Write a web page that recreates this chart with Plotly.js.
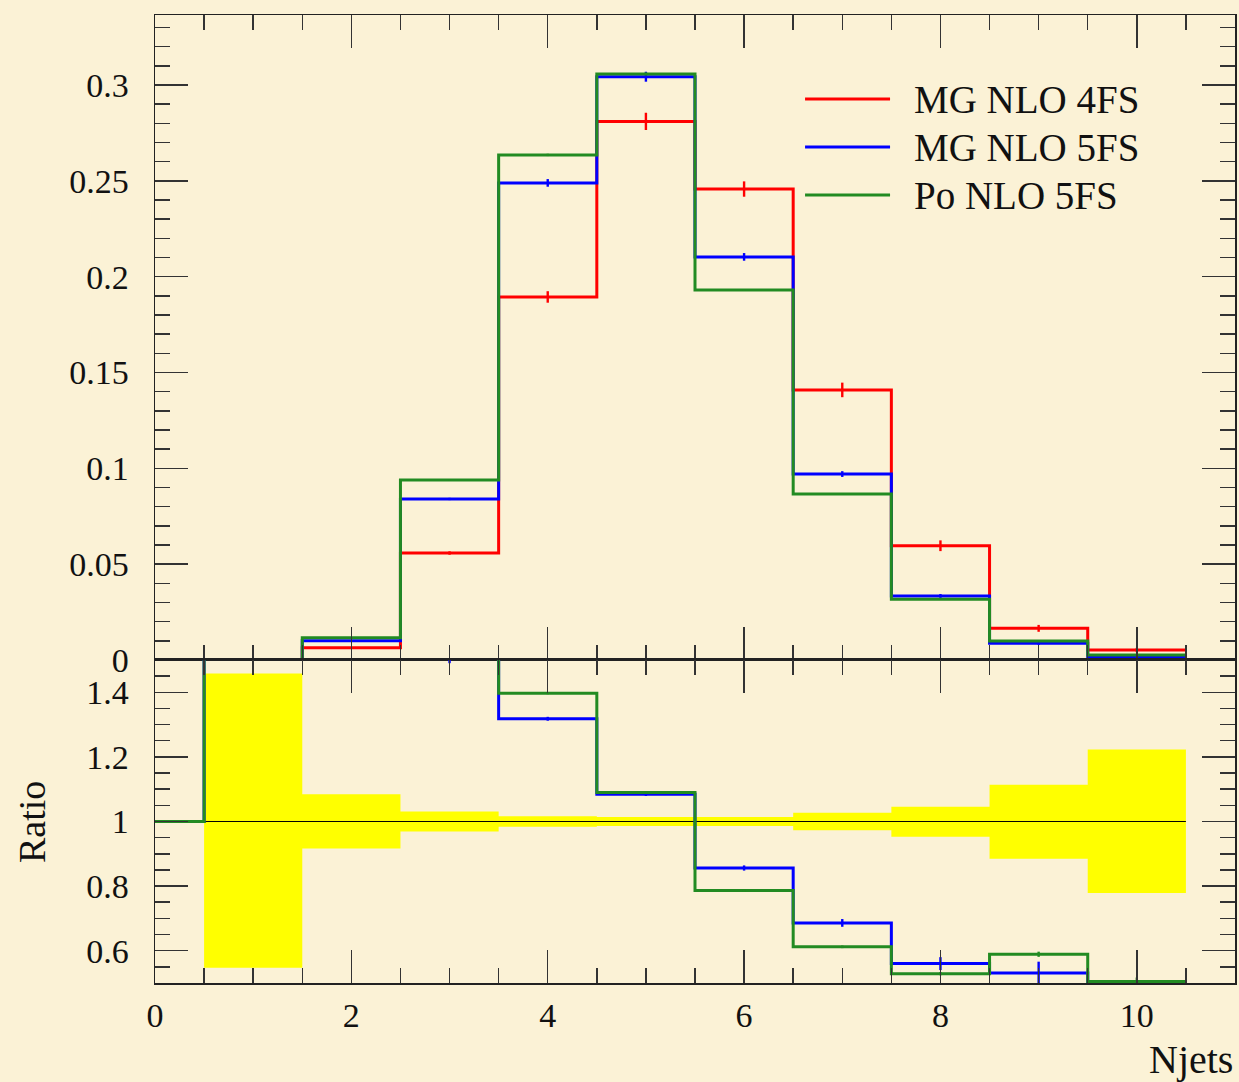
<!DOCTYPE html>
<html>
<head>
<meta charset="utf-8">
<script src="https://cdn.plot.ly/plotly-3.0.1.min.js"></script>
<style>
  html, body { margin: 0; padding: 0; background: #fbf2d6; }
  #chart { width: 1239px; height: 1082px; }
</style>
</head>
<body>
<div id="chart"></div>
<script>
// ---- Data ----
// Main panel: bins Njets = 1..10
const njetsMain = [1, 2, 3, 4, 5, 6, 7, 8, 9, 10];
const mgNlo4fs    = [0, 0.0064, 0.0558, 0.1894, 0.2810, 0.2457, 0.1409, 0.0596, 0.0165, 0.0052];
const mgNlo4fsErr = [0, 0.0003, 0.0009, 0.0030, 0.0045, 0.0040, 0.0038, 0.0028, 0.0018, 0.0011];
const mgNlo5fs    = [0, 0.0100, 0.0840, 0.2489, 0.3043, 0.2103, 0.0970, 0.0334, 0.0087, 0.0014];
const mgNlo5fsErr = [0, 0.0002, 0.0006, 0.0020, 0.0026, 0.0020, 0.0015, 0.0010, 0.0008, 0.0004];
const poNlo5fs    = [0, 0.0116, 0.0939, 0.2635, 0.3057, 0.1930, 0.0866, 0.0317, 0.0099, 0.0026];
const poNlo5fsErr = [0, 0.0001, 0.0003, 0.0006, 0.0007, 0.0005, 0.0004, 0.0003, 0.0002, 0.0001];

// Ratio panel (to MG NLO 4FS): bins Njets = 0..10 (values above 1.5 / below 0.5 are off-scale)
const njetsRatio = [0, 1, 2, 3, 4, 5, 6, 7, 8, 9, 10];
const ratioMg5    = [1, 2.0, 1.56, 1.51, 1.318, 1.084, 0.856, 0.686, 0.560, 0.531, 0.27];
const ratioMg5Err = [0, 0, 0, 0.020, 0.006, 0.005, 0.008, 0.012, 0.020, 0.035, 0.05];
const ratioPo5    = [1, 2.0, 1.81, 1.68, 1.397, 1.090, 0.786, 0.612, 0.529, 0.589, 0.505];
const ratioPo5Err = [0, 0, 0, 0.005, 0.003, 0.003, 0.003, 0.004, 0.005, 0.008, 0.012];

// Reference (MG NLO 4FS) uncertainty band: bins Njets = 1..10
const bandBins  = [1, 2, 3, 4, 5, 6, 7, 8, 9, 10];
const bandUpper = [1.458, 1.084, 1.031, 1.016, 1.014, 1.014, 1.027, 1.046, 1.114, 1.223];
const bandLower = [0.547, 0.916, 0.969, 0.984, 0.986, 0.986, 0.973, 0.953, 0.885, 0.779];
const referenceRatio = 1;

const seriesNames  = ['MG NLO 4FS', 'MG NLO 5FS', 'Po NLO 5FS'];
const seriesColors = ['#ff0000', '#0000ff', '#228b22'];

// ---- Helpers ----
function stepX(centers) {
  const xs = centers.map(c => c - 0.5);
  xs.push(centers[centers.length - 1] + 0.5);
  return xs;
}
function stepY(vals) {
  const ys = vals.slice();
  ys.push(vals[vals.length - 1]);
  return ys;
}
function histTrace(centers, vals, color, xa, ya, name) {
  return {
    type: 'scatter', mode: 'lines', name: name,
    x: stepX(centers), y: stepY(vals),
    line: { shape: 'hv', color: color, width: 3 },
    xaxis: xa, yaxis: ya, showlegend: false, hoverinfo: 'skip'
  };
}
function errTrace(centers, vals, errs, color, xa, ya) {
  return {
    type: 'scatter', mode: 'markers',
    x: centers, y: vals,
    marker: { size: 1, color: color, opacity: 0 },
    error_y: { type: 'data', array: errs, visible: true, color: color, thickness: 2.4, width: 0 },
    xaxis: xa, yaxis: ya, showlegend: false, hoverinfo: 'skip'
  };
}

const bg = '#fbf2d6';
const font = 'Liberation Serif, Times New Roman, serif';
const traces = [];

// Ratio: band
traces.push({
  type: 'scatter', mode: 'lines', x: stepX(bandBins), y: stepY(bandLower),
  line: { shape: 'hv', width: 0, color: '#ffff00' }, xaxis: 'x2', yaxis: 'y2',
  showlegend: false, hoverinfo: 'skip'
});
traces.push({
  type: 'scatter', mode: 'lines', x: stepX(bandBins), y: stepY(bandUpper),
  line: { shape: 'hv', width: 0, color: '#ffff00' }, fill: 'tonexty', fillcolor: '#ffff00',
  xaxis: 'x2', yaxis: 'y2', showlegend: false, hoverinfo: 'skip'
});
// Ratio: reference line at 1
const refX = stepX(njetsRatio);
traces.push({
  type: 'scatter', mode: 'lines', x: [refX[0], refX[refX.length - 1]], y: [referenceRatio, referenceRatio],
  line: { color: '#000000', width: 1 }, xaxis: 'x2', yaxis: 'y2', showlegend: false, hoverinfo: 'skip'
});
// Ratio: series
traces.push(histTrace(njetsRatio, ratioMg5, seriesColors[1], 'x2', 'y2', seriesNames[1]));
traces.push(errTrace(njetsRatio, ratioMg5, ratioMg5Err, seriesColors[1], 'x2', 'y2'));
traces.push(histTrace(njetsRatio, ratioPo5, seriesColors[2], 'x2', 'y2', seriesNames[2]));
traces.push(errTrace(njetsRatio, ratioPo5, ratioPo5Err, seriesColors[2], 'x2', 'y2'));

// Main panel
traces.push(histTrace(njetsMain, mgNlo4fs, seriesColors[0], 'x', 'y', seriesNames[0]));
traces.push(errTrace(njetsMain, mgNlo4fs, mgNlo4fsErr, seriesColors[0], 'x', 'y'));
traces.push(histTrace(njetsMain, mgNlo5fs, seriesColors[1], 'x', 'y', seriesNames[1]));
traces.push(errTrace(njetsMain, mgNlo5fs, mgNlo5fsErr, seriesColors[1], 'x', 'y'));
traces.push(histTrace(njetsMain, poNlo5fs, seriesColors[2], 'x', 'y', seriesNames[2]));
traces.push(errTrace(njetsMain, poNlo5fs, poNlo5fsErr, seriesColors[2], 'x', 'y'));

const axisCommon = {
  showline: true, linecolor: '#222', linewidth: 1.5, mirror: 'allticks',
  ticks: 'inside', ticklen: 33, tickwidth: 1.5, tickcolor: '#333',
  showgrid: false, zeroline: false,
  tickfont: { family: font, size: 34, color: '#111' }
};
const splitY = 0.3337;

const layout = {
  width: 1239, height: 1082,
  margin: { l: 155, r: 4, t: 15, b: 99 },
  paper_bgcolor: bg, plot_bgcolor: bg,
  showlegend: false,
  xaxis: Object.assign({}, axisCommon, {
    domain: [0, 1], anchor: 'y', range: [0, 11], tick0: 0, dtick: 2, showticklabels: false,
    minor: { ticks: 'inside', ticklen: 15, tickwidth: 1.5, tickcolor: '#333', dtick: 0.5, showgrid: false }
  }),
  yaxis: Object.assign({}, axisCommon, {
    domain: [splitY, 1], anchor: 'x', range: [0, 0.3365], tick0: 0, dtick: 0.05,
    ticklabelstandoff: 18,
    minor: { ticks: 'inside', ticklen: 15, tickwidth: 1.5, tickcolor: '#333', dtick: 0.01, showgrid: false }
  }),
  xaxis2: Object.assign({}, axisCommon, {
    domain: [0, 1], anchor: 'y2', range: [0, 11], tick0: 0, dtick: 2, showticklabels: true,
    ticklabelstandoff: 2,
    minor: { ticks: 'inside', ticklen: 15, tickwidth: 1.5, tickcolor: '#333', dtick: 0.5, showgrid: false }
  }),
  yaxis2: Object.assign({}, axisCommon, {
    domain: [0, splitY], anchor: 'x2', range: [0.5, 1.5], tick0: 0, dtick: 0.2,
    ticklabelstandoff: 18,
    minor: { ticks: 'inside', ticklen: 15, tickwidth: 1.5, tickcolor: '#333', dtick: 0.05, showgrid: false }
  }),
  shapes: [],
  annotations: [
    { text: 'Ratio', xref: 'paper', yref: 'paper', x: 0, xshift: -123, y: 0.1663,
      xanchor: 'center', yanchor: 'middle', textangle: -90, showarrow: false,
      font: { family: font, size: 38, color: '#111' } },
    { text: 'Njets', xref: 'paper', yref: 'paper', x: 1, y: 0, yshift: -52,
      xanchor: 'right', yanchor: 'top', showarrow: false,
      font: { family: font, size: 40, color: '#111' } }
  ]
};

// Legend drawn as line samples + text
const legRowsY = [0.9132, 0.8636, 0.8140];
seriesNames.forEach((name, i) => {
  layout.shapes.push({
    type: 'line', xref: 'paper', yref: 'paper', x0: 0.6019, x1: 0.6806,
    y0: legRowsY[i], y1: legRowsY[i], line: { color: seriesColors[i], width: 3 }
  });
  layout.annotations.push({
    text: name, xref: 'paper', yref: 'paper', x: 0.7009, y: legRowsY[i],
    xanchor: 'left', yanchor: 'middle', showarrow: false,
    font: { family: font, size: 39, color: '#111' }
  });
});

Plotly.newPlot('chart', traces, layout, { staticPlot: true, displayModeBar: false });
</script>
</body>
</html>
